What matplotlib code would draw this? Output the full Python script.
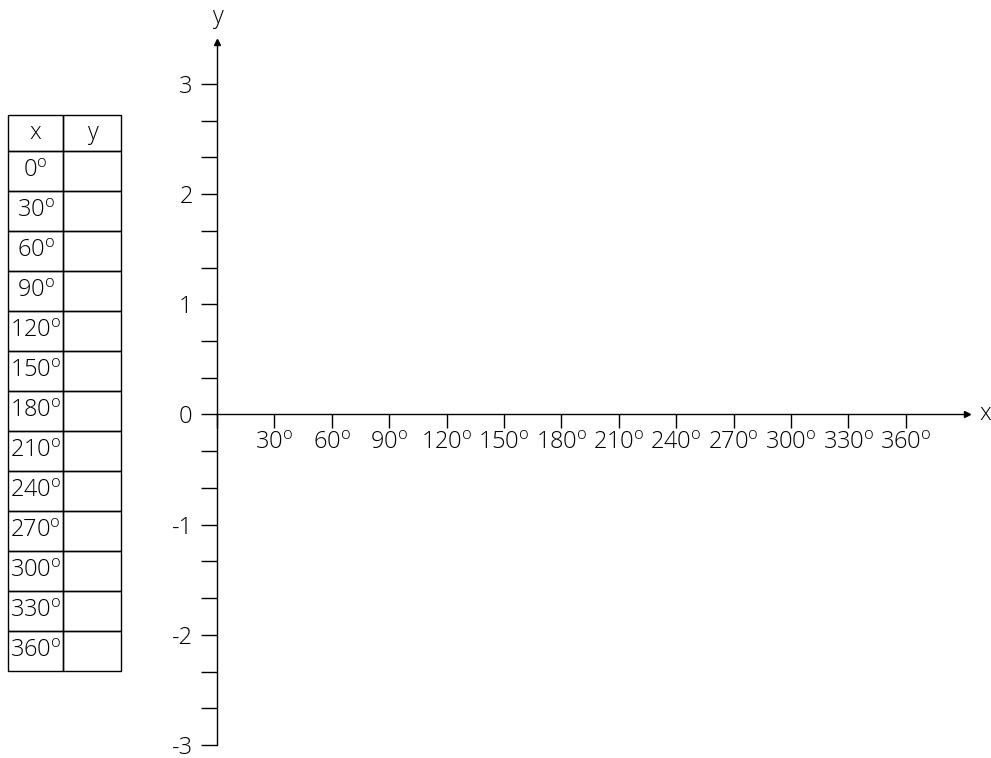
import matplotlib.pyplot as plt
from matplotlib.patches import Rectangle

plt.rcParams['font.family'] = ['Open Sans', 'DejaVu Sans']
plt.rcParams['font.weight'] = 'light'
plt.rcParams['mathtext.fontset'] = 'custom'
plt.rcParams['mathtext.rm'] = 'Open Sans:light'

# values table (y column left blank on purpose)
table_angles = [0, 30, 60, 90, 120, 150, 180, 210, 240, 270, 300, 330, 360]
table_header = ['x', 'y']

# axes ticks
x_ticks = [0, 30, 60, 90, 120, 150, 180, 210, 240, 270, 300, 330, 360]
y_units = [-3, -2, -1, 0, 1, 2, 3]
y_subdiv = 3  # minor steps between unit ticks

FS = 17
W, H = 991, 758


def deg(a):
    return f'{a}$^{{\\mathrm{{o}}}}$'


def fig_rect(left, top, width, height):
    return [left / W, (H - top - height) / H, width / W, height / H]


fig = plt.figure(figsize=(W / 100, H / 100), dpi=100)

# ---- coordinate axes ----
ax = fig.add_axes(fig_rect(217, 42, 750, 703))
ax.set_xlim(0, 392)
ax.set_ylim(-3, 3.38)
ax.spines[['top', 'right']].set_visible(False)
ax.spines['bottom'].set_position(('data', 0))
for s in ax.spines.values():
    s.set_linewidth(1.0)

ax.set_xticks(x_ticks, [''] + [deg(a) for a in x_ticks[1:]])
y_ticks = [k / y_subdiv for k in range(y_units[0] * y_subdiv, y_units[-1] * y_subdiv + 1)]
y_labels = [str(int(round(t))) if k % y_subdiv == 0 else ''
            for k, t in enumerate(y_ticks)]
ax.set_yticks(y_ticks, y_labels)
ax.tick_params(axis='x', direction='out', length=10, width=1.0, labelsize=FS, pad=2)
ax.tick_params(axis='y', direction='out', length=11.5, width=1.0, labelsize=FS, pad=6)

ax.plot(1, 0, marker='>', color='k', ms=5, transform=ax.get_yaxis_transform(), clip_on=False)
ax.plot(0, 1, marker='^', color='k', ms=5, transform=ax.get_xaxis_transform(), clip_on=False)
ax.annotate('x', xy=(1, 0), xycoords=ax.get_yaxis_transform(), xytext=(9, 0),
            textcoords='offset points', va='center', ha='left', fontsize=FS)
ax.annotate('y', xy=(0, 1), xycoords=ax.get_xaxis_transform(), xytext=(0, 18),
            textcoords='offset points', va='center', ha='center', fontsize=FS)

# ---- blank value table ----
col_w = [55, 58]
head_h, row_h = 36, 40
tab_h = head_h + row_h * len(table_angles)
tab = fig.add_axes(fig_rect(8, 115, sum(col_w), tab_h))
tab.set_xlim(0, sum(col_w))
tab.set_ylim(tab_h, 0)
tab.axis('off')

rows = [table_header[0]] + [deg(a) for a in table_angles]
y0 = 0
for i, label in enumerate(rows):
    h = head_h if i == 0 else row_h
    x0 = 0
    for j, w in enumerate(col_w):
        tab.add_patch(Rectangle((x0, y0), w, h, fill=False, lw=1.0,
                                ec='k', clip_on=False))
        x0 += w
    tab.text(col_w[0] / 2, y0 + h / 2, label, ha='center', va='center', fontsize=FS)
    if i == 0:
        tab.text(col_w[0] + col_w[1] / 2, y0 + h / 2, table_header[1],
                 ha='center', va='center', fontsize=FS)
    y0 += h

fig.savefig('out.png', dpi=100)
